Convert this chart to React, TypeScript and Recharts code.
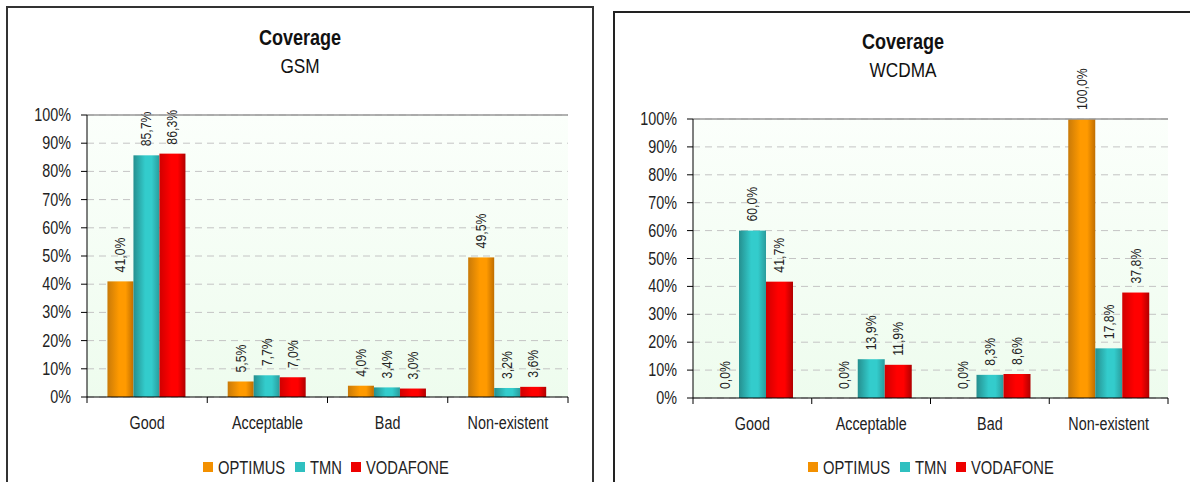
import React from "react";
import {
  BarChart,
  Bar,
  XAxis,
  YAxis,
  CartesianGrid,
  ReferenceLine,
} from "recharts";

const categories = ["Good", "Acceptable", "Bad", "Non-existent"];
const operators = ["OPTIMUS", "TMN", "VODAFONE"];

const gsmOptimus = [41.0, 5.5, 4.0, 49.5];
const gsmTmn = [85.7, 7.7, 3.4, 3.2];
const gsmVodafone = [86.3, 7.0, 3.0, 3.6];

const wcdmaOptimus = [0.0, 0.0, 0.0, 100.0];
const wcdmaTmn = [60.0, 13.9, 8.3, 17.8];
const wcdmaVodafone = [41.7, 11.9, 8.6, 37.8];

const yTicks = [0, 10, 20, 30, 40, 50, 60, 70, 80, 90, 100];

// no Arial Narrow here, so squeeze Liberation Sans horizontally
const FONT = "'Liberation Sans', Arial, sans-serif";
const NARROW = 0.82;
const FILLS = ["url(#gOrange)", "url(#gTeal)", "url(#gRed)"];
const SWATCH = ["#f39000", "#2fc0c0", "#ee0000"];

function buildRows(a: number[], b: number[], c: number[]) {
  return categories.map((name, i) => ({ name, OPTIMUS: a[i], TMN: b[i], VODAFONE: c[i] }));
}

const gsmRows = buildRows(gsmOptimus, gsmTmn, gsmVodafone);
const wcdmaRows = buildRows(wcdmaOptimus, wcdmaTmn, wcdmaVodafone);

const fmt = (v: number) => v.toFixed(1).replace(".", ",") + "%";

function NText({ x, y, rotate = 0, size, anchor, weight, children }: any) {
  return (
    <text
      transform={`translate(${x},${y}) rotate(${rotate}) scale(${NARROW},1)`}
      textAnchor={anchor}
      dominantBaseline="central"
      fontFamily={FONT}
      fontSize={size}
      fontWeight={weight}
      fill="#222"
    >
      {children}
    </text>
  );
}

function BarWithLabel(props: any) {
  const { x, y, width, height, fill, payload, op } = props;
  const v = payload ? payload[op] : null;
  const cx = x + width / 2;
  return (
    <g>
      {height > 0 && <rect x={x} y={y} width={width} height={height} fill={fill} />}
      {v != null && (
        <NText x={cx} y={y - 9} rotate={-90} size={15} anchor="start">
          {fmt(v)}
        </NText>
      )}
    </g>
  );
}

function CatTick(props: any) {
  const { x, y, payload, index, visibleTicksCount, width } = props;
  const half = payload && payload.offset ? payload.offset : width / 8;
  return (
    <g>
      <line x1={x - half} x2={x - half} y1={y} y2={y + 6} stroke="#000" />
      {index === visibleTicksCount - 1 && (
        <line x1={x + half} x2={x + half} y1={y} y2={y + 6} stroke="#000" />
      )}
      <NText x={x} y={y + 26} size={17.5} anchor="middle">
        {payload.value}
      </NText>
    </g>
  );
}

function PctTick(props: any) {
  const { x, y, payload } = props;
  return (
    <NText x={x} y={y} size={17.5} anchor="end">
      {payload.value + "%"}
    </NText>
  );
}

function Gradients() {
  const grad = (id: string, dark: string, light: string, dark2: string) => (
    <linearGradient id={id} x1="0" y1="0" x2="1" y2="0">
      <stop offset="0%" stopColor={dark} />
      <stop offset="45%" stopColor={light} />
      <stop offset="70%" stopColor={light} />
      <stop offset="100%" stopColor={dark2} />
    </linearGradient>
  );
  return (
    <svg width={0} height={0} style={{ position: "absolute" }}>
      <defs>
        {grad("gOrange", "#c97a08", "#ff9a00", "#c06e00")}
        {grad("gTeal", "#258f8f", "#33cccc", "#2a9c9c")}
        {grad("gRed", "#d00000", "#ff0000", "#b00000")}
        <linearGradient id="plotBg" x1="0" y1="0" x2="0" y2="1">
          <stop offset="0%" stopColor="#fbfffb" />
          <stop offset="100%" stopColor="#eefcee" />
        </linearGradient>
      </defs>
    </svg>
  );
}

interface PanelProps {
  rows: any[];
  left: number;
  width: number;
  margin: { top: number; right: number; bottom: number; left: number };
  gap: string;
}

function CoverageChart({ rows, left, width, margin, gap }: PanelProps) {
  return (
    <div style={{ position: "absolute", left, top: 0 }}>
      <BarChart
        width={width}
        height={482}
        data={rows}
        margin={margin}
        barCategoryGap={gap}
        barGap={0}
      >
        <CartesianGrid
          vertical={false}
          stroke="#c4c4c4"
          strokeDasharray="7 5"
          fill="url(#plotBg)"
          fillOpacity={1}
        />
        <XAxis
          dataKey="name"
          height={30}
          axisLine={{ stroke: "#000" }}
          tickLine={false}
          tickSize={0}
          tickMargin={0}
          tick={<CatTick />}
          interval={0}
        />
        <YAxis
          width={60}
          domain={[0, 100]}
          ticks={yTicks}
          axisLine={{ stroke: "#000" }}
          tickLine={{ stroke: "#000" }}
          tickSize={6}
          tickMargin={10}
          tick={<PctTick />}
        />
        <YAxis
          yAxisId="r"
          orientation="right"
          width={0}
          domain={[0, 100]}
          tick={false}
          tickLine={false}
          axisLine={{ stroke: "#999" }}
        />
        <ReferenceLine y={100} stroke="#999" strokeWidth={1.5} />
        {operators.map((op, i) => (
          <Bar
            key={op}
            dataKey={op}
            fill={FILLS[i]}
            isAnimationActive={false}
            shape={(p: any) => <BarWithLabel {...p} op={op} />}
          />
        ))}
      </BarChart>
    </div>
  );
}

const LEGEND_OFFSETS = [0, 92, 148];

function Legend({ left, top }: { left: number; top: number }) {
  return (
    <svg
      width={260}
      height={24}
      style={{ position: "absolute", left, top }}
    >
      {operators.map((op, i) => (
        <g key={op}>
          <rect x={LEGEND_OFFSETS[i]} y={7} width={10} height={10} fill={SWATCH[i]} />
          <NText x={LEGEND_OFFSETS[i] + 15} y={12} size={18} anchor="start">
            {op}
          </NText>
        </g>
      ))}
    </svg>
  );
}

function Title({ cx, top, sub }: { cx: number; top: number; sub: string }) {
  const line = (text: string, size: number, bold: boolean) => (
    <div
      style={{
        fontSize: size,
        fontWeight: bold ? "bold" : "normal",
        lineHeight: "28px",
        transform: `scaleX(${NARROW})`,
      }}
    >
      {text}
    </div>
  );
  return (
    <div
      style={{
        position: "absolute",
        left: cx - 100,
        top,
        width: 200,
        textAlign: "center",
        fontFamily: FONT,
        color: "#111",
      }}
    >
      {line("Coverage", 22, true)}
      {line(sub, 21, false)}
    </div>
  );
}

export default function App() {
  return (
    <div
      style={{
        position: "fixed",
        left: 0,
        top: 0,
        width: 1190,
        height: 482,
        overflow: "hidden",
        background: "#fff",
      }}
    >
      <Gradients />
      <div
        style={{
          position: "absolute",
          left: 6,
          top: 6,
          width: 584,
          height: 500,
          border: "2px solid #333",
        }}
      />
      <div
        style={{
          position: "absolute",
          left: 613,
          top: 11,
          width: 600,
          height: 500,
          border: "2px solid #222",
        }}
      />
      <Title cx={300} top={24} sub="GSM" />
      <Title cx={903} top={28} sub="WCDMA" />
      <CoverageChart
        rows={gsmRows}
        left={0}
        width={600}
        margin={{ top: 115, right: 32, bottom: 55, left: 27 }}
        gap="17%"
      />
      <CoverageChart
        rows={wcdmaRows}
        left={600}
        width={590}
        margin={{ top: 119, right: 22, bottom: 54, left: 33 }}
        gap="16%"
      />
      <Legend left={203} top={455} />
      <Legend left={808} top={455} />
    </div>
  );
}
